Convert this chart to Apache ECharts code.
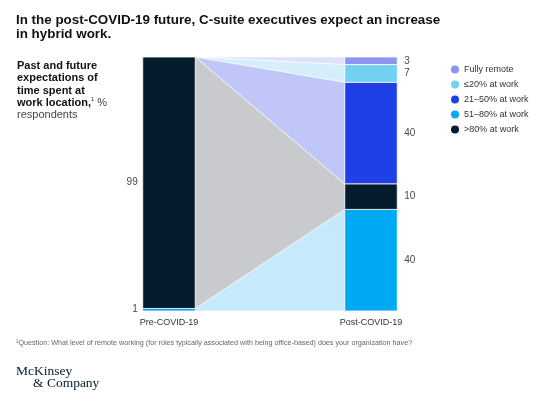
<!DOCTYPE html>
<html>
<head>
<meta charset="utf-8">
<script src="https://cdn.jsdelivr.net/npm/echarts@6/dist/echarts.min.js"></script>
<style>
  html, body { margin: 0; padding: 0; background: #fff; }
  #chart { width: 554px; height: 414px; }
</style>
</head>
<body>
<div id="chart"></div>
<script>
// data (% respondents)
const categories = ['Pre-COVID-19', 'Post-COVID-19'];
const seriesNames = ['Fully remote', '≤20% at work', '21–50% at work', '51–80% at work', '>80% at work'];
const preValues = [0, 0, 0, 1, 99];
const postValues = [3, 7, 40, 40, 10];
// stacking order from bottom to top (indexes into seriesNames)
const stackOrder = [3, 4, 2, 1, 0];

const barColors = ['#8b94ef', '#72d1f1', '#1f40e6', '#00a9f4', '#051c2c'];
const flowColors = ['#dfe1fb', '#d4eff9', '#c0c6f7', '#c6e9fb', '#c8cacd'];
const FONT = 'Liberation Sans, Arial, sans-serif';

// stacked bands [lo, hi] per category, per series
function bands(values) {
  const out = [];
  let acc = 0;
  stackOrder.forEach(function (i) {
    out[i] = [acc, acc + values[i]];
    acc += values[i];
  });
  return out;
}
const preBands = bands(preValues);
const postBands = bands(postValues);

const chart = echarts.init(document.getElementById('chart'));

function makeSeries(i) {
  return {
    name: seriesNames[i],
    type: 'custom',
    itemStyle: { color: barColors[i] },
    data: [
      [0, preBands[i][0], preBands[i][1], preValues[i]],
      [1, postBands[i][0], postBands[i][1], postValues[i]]
    ],
    renderItem: function (params, api) {
      const x = api.value(0);
      const lo = api.value(1);
      const hi = api.value(2);
      const val = api.value(3);
      const barW = api.size([1, 0])[0] * 0.26;
      const top = api.coord([x, hi]);
      const bot = api.coord([x, lo]);
      const children = [];

      if (params.dataIndex === 0) {
        // flow from this series' pre band to its post band
        const a0 = api.coord([0, preBands[i][1]]);
        const a1 = api.coord([0, preBands[i][0]]);
        const b0 = api.coord([1, postBands[i][1]]);
        const b1 = api.coord([1, postBands[i][0]]);
        const xl = a0[0] + barW / 2;
        const xr = b0[0] - barW / 2;
        children.push({
          type: 'polygon',
          z2: 1,
          shape: { points: [[xl, a0[1]], [xr, b0[1]], [xr, b1[1]], [xl, a1[1]]] },
          style: { fill: flowColors[i], stroke: '#fff', lineWidth: 0.6 }
        });
      }

      if (val > 0) {
        children.push({
          type: 'rect',
          z2: 2,
          shape: { x: top[0] - barW / 2, y: top[1], width: barW, height: bot[1] - top[1] },
          style: { fill: barColors[i], stroke: '#fff', lineWidth: 0.8 }
        });
        const midY = (top[1] + bot[1]) / 2;
        children.push({
          type: 'text',
          z2: 3,
          x: x === 0 ? top[0] - barW / 2 - 5 : top[0] + barW / 2 + 7,
          y: midY,
          style: {
            text: String(val),
            fill: '#4a4a4a',
            font: '10px ' + FONT,
            align: x === 0 ? 'right' : 'left',
            verticalAlign: 'middle'
          }
        });
      }
      return { type: 'group', children: children };
    }
  };
}

chart.setOption({
  animation: false,
  title: {
    text: 'In the post-COVID-19 future, C-suite executives expect an increase\nin hybrid work.',
    left: 16,
    top: 13,
    padding: 0,
    textStyle: { fontFamily: FONT, fontSize: 13.4, fontWeight: 'bold', color: '#111', lineHeight: 14 }
  },
  legend: {
    orient: 'vertical',
    left: 446,
    top: 60,
    icon: 'circle',
    itemWidth: 8,
    itemHeight: 8,
    itemGap: 6,
    data: seriesNames,
    textStyle: { fontFamily: FONT, fontSize: 9, color: '#333', lineHeight: 9 }
  },
  grid: { left: 68, right: 82, top: 57, bottom: 103 },
  xAxis: {
    type: 'category',
    data: categories,
    axisLine: { show: false },
    axisTick: { show: false },
    axisLabel: { fontFamily: FONT, fontSize: 9, color: '#333', margin: 7 }
  },
  yAxis: { type: 'value', min: 0, max: 100, show: false },
  graphic: [
    {
      type: 'text',
      left: 17,
      top: 60,
      style: {
        text: 'Past and future\nexpectations of\ntime spent at\nwork location,{sup|1} {n|%}\n{n|respondents}',
        font: 'bold 11px ' + FONT,
        fill: '#111',
        lineHeight: 12.2,
        rich: {
          sup: { fontSize: 6, fontWeight: 'normal', verticalAlign: 'top', fill: '#333', padding: [0, 0, 4, 0] },
          n: { fontSize: 11, fontWeight: 'normal', fill: '#444' }
        }
      }
    },
    {
      type: 'text',
      left: 16,
      top: 340,
      style: {
        text: '¹Question: What level of remote working (for roles typically associated with being office-based) does your organization have?',
        font: '7.2px ' + FONT,
        fill: '#666'
      }
    },
    {
      type: 'text',
      left: 16,
      top: 364,
      style: { text: 'McKinsey', font: '13.5px Liberation Serif, serif', fill: '#051c2c' }
    },
    {
      type: 'text',
      left: 33,
      top: 376,
      style: { text: '& Company', font: '13.5px Liberation Serif, serif', fill: '#051c2c' }
    }
  ],
  series: seriesNames.map(function (n, i) { return makeSeries(i); })
});
</script>
</body>
</html>
